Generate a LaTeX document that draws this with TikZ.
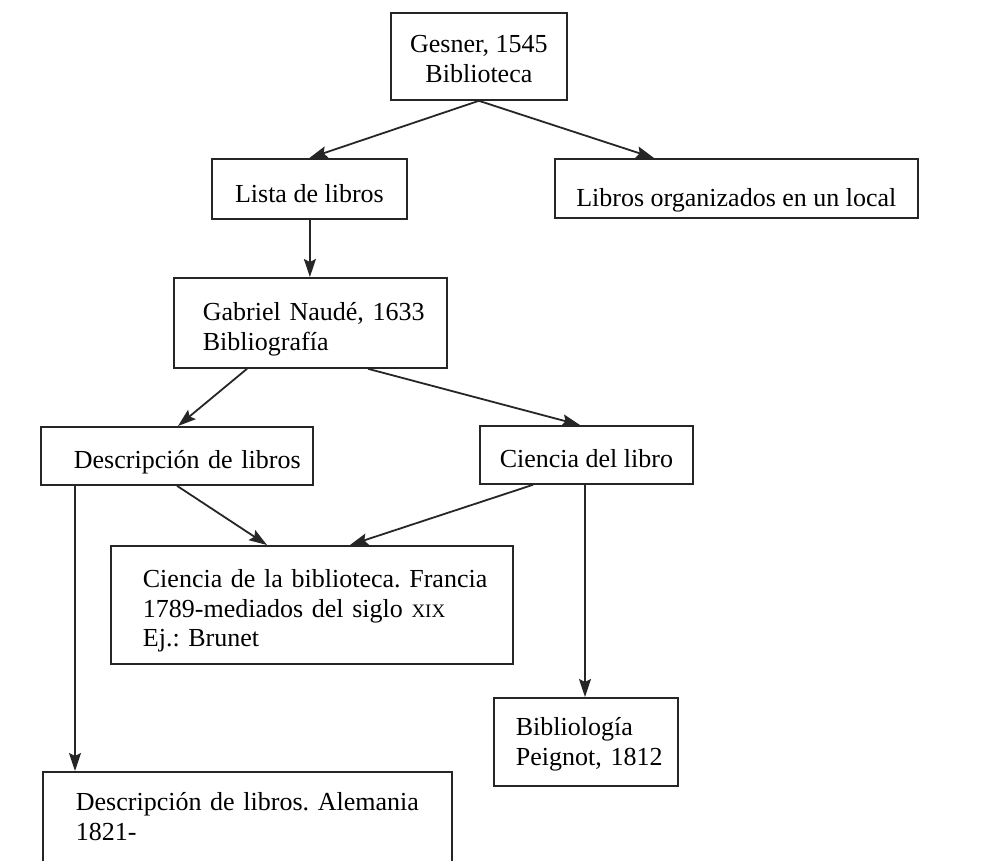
\documentclass[tikz,border=0pt]{standalone}
\usepackage{fontspec}
\setmainfont{Liberation Serif}
\usetikzlibrary{arrows.meta}
\frenchspacing
\tikzset{
  box/.style={draw=black!85, line width=1.8pt, anchor=north west, inner ysep=0pt,
    font=\fontsize{26}{29.5}\selectfont, text=black},
  cbox/.style={box, align=center},
  lbox/.style={box, align=left},
  down/.style={text height=#1, text depth=0pt},
  up/.style={text height=0pt, text depth=#1},
  conn/.style={draw=black!85, line width=1.8pt,
    -{Stealth[length=18pt, width=12pt, inset=3pt]}}
}
\newcommand{\smallroman}[1]{{\fontsize{19}{29.5}\selectfont #1}}
\begin{document}
\begin{tikzpicture}[x=1pt, y=-1pt]
\fill[white] (0,0) rectangle (1001,861);
\useasboundingbox (0,0) rectangle (1001,861);

\node[cbox, down=52pt, minimum width=176pt, minimum height=87pt, inner xsep=10pt] (gesner) at (390,12) {Gesner, 1545\\Biblioteca};
\node[cbox, down=28pt, minimum width=195pt, minimum height=60pt, inner xsep=10pt] (lista) at (211,158) {Lista de libros};
\node[cbox, down=37pt, minimum width=363pt, minimum height=59pt, inner xsep=8pt] (local) at (554,158) {Libros organizados en un local};
\node[lbox, up=4pt, minimum width=273pt, minimum height=90pt, inner xsep=29pt, text width=215pt] (naude) at (173,277) {\mbox{Gabriel Naudé, 1633}\\Bibliografía};
\node[lbox, down=26pt, minimum width=272pt, minimum height=58pt, inner xsep=33pt, text width=206pt] (desc) at (40,426) {\mbox{Descripción de libros}};
\node[cbox, down=26pt, minimum width=213pt, minimum height=58pt, inner xsep=10pt] (cienlib) at (479,425) {Ciencia del libro};
\node[lbox, up=34pt, minimum width=402pt, minimum height=118pt, inner xsep=32pt, text width=338pt] (cienbib) at (110,545) {\mbox{Ciencia de la biblioteca. Francia}\\\mbox{1789-mediados del siglo \smallroman{XIX}}\\Ej.: Brunet};
\node[lbox, up=12pt, minimum width=184pt, minimum height=88pt, inner xsep=22pt, text width=140pt] (biblio) at (493,697) {Bibliología\\\mbox{Peignot, 1812}};
\node[lbox, up=12pt, minimum width=409pt, minimum height=90pt, inner xsep=33pt, text width=343pt] (aleman) at (42,771) {\mbox{Descripción de libros. Alemania}\\1821-};

\draw[conn] (gesner.south) -- (lista.north);
\draw[conn] (gesner.south) -- ([xshift=100pt]local.north west);
\draw[conn] ([xshift=0.5pt]lista.south) coordinate (l1) -- (l1 |- naude.north);
\draw[conn] ([xshift=74pt]naude.south west) -- ([xshift=138pt]desc.north west);
\draw[conn] ([xshift=195pt]naude.south west) -- ([xshift=101pt]cienlib.north west);
\draw[conn] ([xshift=137pt]desc.south west) -- ([xshift=157pt]cienbib.north west);
\draw[conn] ([xshift=54pt]cienlib.south west) -- ([xshift=240pt]cienbib.north west);
\draw[conn] ([xshift=35pt]desc.south west) coordinate (d1) -- (d1 |- aleman.north);
\draw[conn] ([xshift=106pt]cienlib.south west) coordinate (c1) -- (c1 |- biblio.north);
\end{tikzpicture}
\end{document}
